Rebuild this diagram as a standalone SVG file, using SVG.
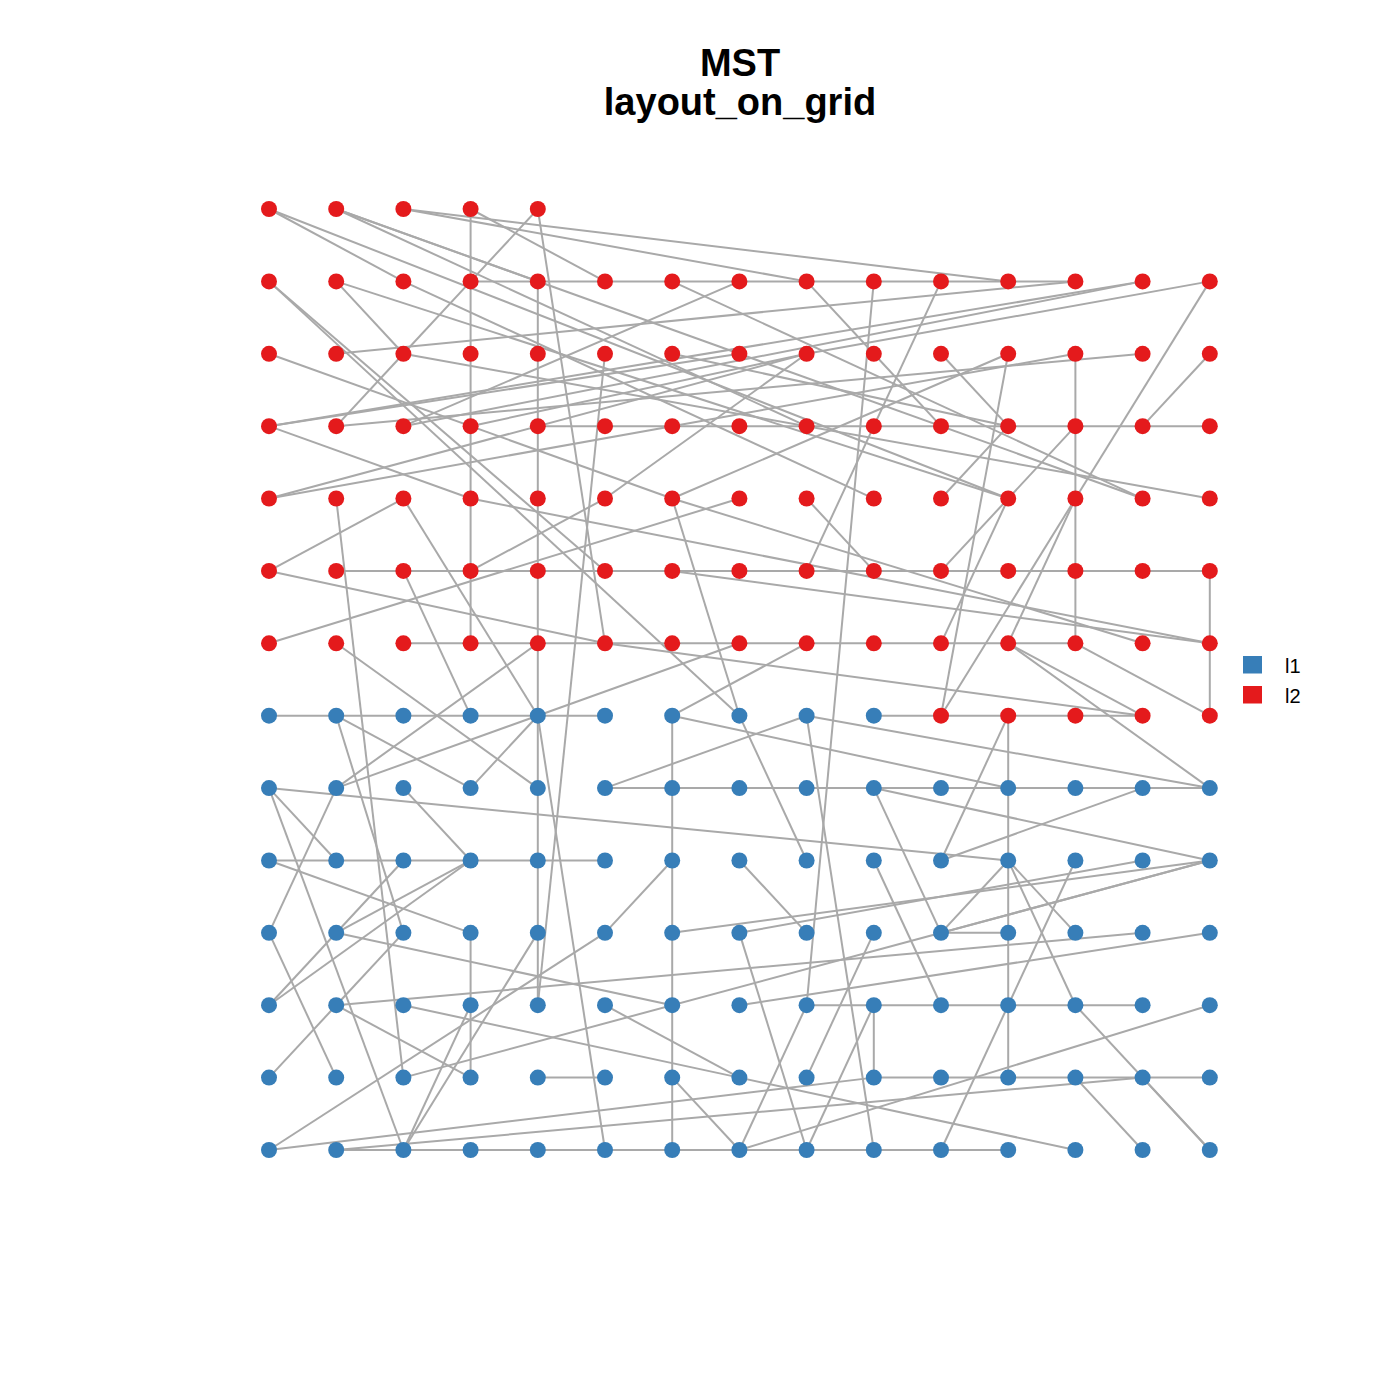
<svg xmlns="http://www.w3.org/2000/svg" width="1400" height="1400" viewBox="0 0 1400 1400">
<style>
.e line{stroke:#A9A9A9;stroke-width:2;vector-effect:non-scaling-stroke;fill:none}
.b{fill:#377EB8}
.r{fill:#E41A1C}
.t{font-family:"Liberation Sans",Arial,sans-serif;font-weight:bold;font-size:38px;text-anchor:middle;fill:#000}
.lg{font-family:"Liberation Sans",Arial,sans-serif;font-size:20px;fill:#000}
</style>
<rect width="1400" height="1400" fill="#fff"/>
<text class="t" x="740" y="76">MST</text>
<text class="t" x="740" y="115">layout_on_grid</text>
<g id="edges" class="e" transform="matrix(67.2,0,0,72.385,269,209)">
<line x1="3" y1="1" x2="4" y2="1"/><line x1="4" y1="1" x2="5" y2="1"/><line x1="5" y1="1" x2="6" y2="1"/><line x1="6" y1="1" x2="7" y2="1"/><line x1="7" y1="1" x2="8" y2="1"/><line x1="8" y1="1" x2="9" y2="1"/><line x1="9" y1="1" x2="10" y2="1"/><line x1="10" y1="1" x2="11" y2="1"/><line x1="11" y1="1" x2="12" y2="1"/>
<line x1="4" y1="3" x2="5" y2="3"/><line x1="5" y1="3" x2="6" y2="3"/><line x1="6" y1="3" x2="7" y2="3"/><line x1="7" y1="3" x2="8" y2="3"/><line x1="8" y1="3" x2="9" y2="3"/><line x1="9" y1="3" x2="10" y2="3"/><line x1="10" y1="3" x2="11" y2="3"/><line x1="11" y1="3" x2="12" y2="3"/><line x1="12" y1="3" x2="13" y2="3"/><line x1="13" y1="3" x2="14" y2="3"/>
<line x1="1" y1="5" x2="2" y2="5"/><line x1="2" y1="5" x2="3" y2="5"/><line x1="3" y1="5" x2="4" y2="5"/><line x1="4" y1="5" x2="5" y2="5"/><line x1="5" y1="5" x2="6" y2="5"/><line x1="6" y1="5" x2="7" y2="5"/><line x1="7" y1="5" x2="8" y2="5"/><line x1="8" y1="5" x2="9" y2="5"/><line x1="9" y1="5" x2="10" y2="5"/><line x1="10" y1="5" x2="11" y2="5"/><line x1="11" y1="5" x2="12" y2="5"/><line x1="12" y1="5" x2="13" y2="5"/><line x1="13" y1="5" x2="14" y2="5"/>
<line x1="2" y1="6" x2="3" y2="6"/><line x1="3" y1="6" x2="4" y2="6"/><line x1="4" y1="6" x2="5" y2="6"/><line x1="5" y1="6" x2="6" y2="6"/><line x1="6" y1="6" x2="7" y2="6"/><line x1="7" y1="6" x2="8" y2="6"/><line x1="8" y1="6" x2="9" y2="6"/><line x1="9" y1="6" x2="10" y2="6"/><line x1="10" y1="6" x2="11" y2="6"/><line x1="11" y1="6" x2="12" y2="6"/>
<line x1="0" y1="7" x2="1" y2="7"/><line x1="1" y1="7" x2="2" y2="7"/><line x1="2" y1="7" x2="3" y2="7"/><line x1="3" y1="7" x2="4" y2="7"/><line x1="4" y1="7" x2="5" y2="7"/><line x1="9" y1="7" x2="10" y2="7"/><line x1="10" y1="7" x2="11" y2="7"/><line x1="11" y1="7" x2="12" y2="7"/><line x1="12" y1="7" x2="13" y2="7"/>
<line x1="5" y1="8" x2="6" y2="8"/><line x1="6" y1="8" x2="7" y2="8"/><line x1="7" y1="8" x2="8" y2="8"/><line x1="8" y1="8" x2="9" y2="8"/><line x1="9" y1="8" x2="10" y2="8"/><line x1="10" y1="8" x2="11" y2="8"/><line x1="11" y1="8" x2="12" y2="8"/><line x1="12" y1="8" x2="13" y2="8"/><line x1="13" y1="8" x2="14" y2="8"/>
<line x1="0" y1="9" x2="1" y2="9"/><line x1="1" y1="9" x2="2" y2="9"/><line x1="2" y1="9" x2="3" y2="9"/><line x1="3" y1="9" x2="4" y2="9"/><line x1="4" y1="9" x2="5" y2="9"/>
<line x1="10" y1="10" x2="11" y2="10"/>
<line x1="8" y1="11" x2="9" y2="11"/><line x1="9" y1="11" x2="10" y2="11"/><line x1="10" y1="11" x2="11" y2="11"/><line x1="11" y1="11" x2="12" y2="11"/><line x1="12" y1="11" x2="13" y2="11"/>
<line x1="4" y1="12" x2="5" y2="12"/><line x1="9" y1="12" x2="10" y2="12"/><line x1="10" y1="12" x2="11" y2="12"/><line x1="11" y1="12" x2="12" y2="12"/><line x1="12" y1="12" x2="13" y2="12"/><line x1="13" y1="12" x2="14" y2="12"/>
<line x1="1" y1="13" x2="2" y2="13"/><line x1="2" y1="13" x2="3" y2="13"/><line x1="3" y1="13" x2="4" y2="13"/><line x1="4" y1="13" x2="5" y2="13"/><line x1="5" y1="13" x2="6" y2="13"/><line x1="6" y1="13" x2="7" y2="13"/><line x1="7" y1="13" x2="8" y2="13"/><line x1="8" y1="13" x2="9" y2="13"/><line x1="9" y1="13" x2="10" y2="13"/><line x1="10" y1="13" x2="11" y2="13"/>
<line x1="3" y1="0" x2="3" y2="1"/><line x1="3" y1="1" x2="3" y2="2"/><line x1="3" y1="2" x2="3" y2="3"/><line x1="3" y1="3" x2="3" y2="4"/><line x1="3" y1="4" x2="3" y2="5"/><line x1="3" y1="5" x2="3" y2="6"/>
<line x1="3" y1="10" x2="3" y2="11"/><line x1="3" y1="11" x2="3" y2="12"/>
<line x1="4" y1="1" x2="4" y2="2"/><line x1="4" y1="2" x2="4" y2="3"/><line x1="4" y1="3" x2="4" y2="4"/><line x1="4" y1="4" x2="4" y2="5"/><line x1="4" y1="5" x2="4" y2="6"/><line x1="4" y1="6" x2="4" y2="7"/><line x1="4" y1="7" x2="4" y2="8"/><line x1="4" y1="8" x2="4" y2="9"/><line x1="4" y1="9" x2="4" y2="10"/><line x1="4" y1="10" x2="4" y2="11"/>
<line x1="6" y1="7" x2="6" y2="8"/><line x1="6" y1="8" x2="6" y2="9"/><line x1="6" y1="9" x2="6" y2="10"/><line x1="6" y1="10" x2="6" y2="11"/><line x1="6" y1="11" x2="6" y2="12"/><line x1="6" y1="12" x2="6" y2="13"/>
<line x1="11" y1="7" x2="11" y2="8"/><line x1="11" y1="8" x2="11" y2="9"/><line x1="11" y1="9" x2="11" y2="10"/><line x1="11" y1="10" x2="11" y2="11"/><line x1="11" y1="11" x2="11" y2="12"/>
<line x1="12" y1="2" x2="12" y2="3"/><line x1="12" y1="3" x2="12" y2="4"/><line x1="12" y1="4" x2="12" y2="5"/><line x1="12" y1="5" x2="12" y2="6"/>
<line x1="14" y1="5" x2="14" y2="6"/><line x1="14" y1="6" x2="14" y2="7"/>
<line x1="9" y1="11" x2="9" y2="12"/>
<line x1="0" y1="0" x2="2" y2="1"/><line x1="0" y1="0" x2="11" y2="4"/><line x1="1" y1="0" x2="4" y2="1"/><line x1="1" y1="0" x2="8" y2="3"/><line x1="1" y1="0" x2="13" y2="4"/><line x1="2" y1="0" x2="8" y2="1"/><line x1="2" y1="0" x2="11" y2="1"/><line x1="3" y1="0" x2="5" y2="1"/><line x1="4" y1="0" x2="3" y2="1"/><line x1="4" y1="0" x2="5" y2="6"/>
<line x1="0" y1="1" x2="5" y2="5"/><line x1="0" y1="1" x2="7" y2="7"/><line x1="1" y1="1" x2="2" y2="2"/><line x1="1" y1="1" x2="11" y2="4"/><line x1="2" y1="1" x2="9" y2="4"/><line x1="3" y1="1" x2="2" y2="2"/><line x1="2" y1="2" x2="1" y2="3"/><line x1="8" y1="1" x2="9" y2="2"/><line x1="9" y1="2" x2="10" y2="3"/><line x1="9" y1="1" x2="8" y2="11"/><line x1="12" y1="1" x2="1" y2="2"/>
<line x1="13" y1="1" x2="0" y2="3"/><line x1="13" y1="1" x2="2" y2="3"/><line x1="14" y1="1" x2="8" y2="2"/><line x1="8" y1="2" x2="3" y2="3"/><line x1="8" y1="2" x2="5" y2="4"/><line x1="0" y1="4" x2="8" y2="2"/><line x1="14" y1="1" x2="12" y2="4"/><line x1="12" y1="4" x2="10" y2="7"/><line x1="11" y1="2" x2="10" y2="7"/><line x1="0" y1="2" x2="6" y2="4"/><line x1="0" y1="4" x2="6" y2="3"/><line x1="2" y1="2" x2="14" y2="4"/>
<line x1="6" y1="1" x2="13" y2="4"/><line x1="7" y1="1" x2="2" y2="3"/><line x1="10" y1="1" x2="8" y2="5"/><line x1="10" y1="2" x2="11" y2="3"/><line x1="11" y1="2" x2="6" y2="4"/><line x1="12" y1="2" x2="6" y2="3"/><line x1="13" y1="2" x2="1" y2="3"/><line x1="14" y1="2" x2="13" y2="3"/><line x1="0" y1="3" x2="3" y2="4"/><line x1="3" y1="5" x2="5" y2="4"/>
<line x1="5" y1="2" x2="4" y2="11"/><line x1="6" y1="2" x2="11" y2="3"/><line x1="0" y1="3" x2="7" y2="2"/><line x1="11" y1="4" x2="12" y2="3"/><line x1="10" y1="4" x2="11" y2="3"/><line x1="8" y1="4" x2="9" y2="5"/><line x1="6" y1="4" x2="13" y2="6"/><line x1="3" y1="4" x2="14" y2="6"/>
<line x1="10" y1="5" x2="11" y2="4"/><line x1="11" y1="4" x2="10" y2="6"/><line x1="12" y1="4" x2="11" y2="6"/><line x1="6" y1="5" x2="14" y2="6"/><line x1="5" y1="6" x2="13" y2="7"/><line x1="8" y1="7" x2="14" y2="8"/>
<line x1="1" y1="4" x2="2" y2="12"/><line x1="0" y1="5" x2="2" y2="4"/><line x1="0" y1="5" x2="5" y2="6"/><line x1="0" y1="6" x2="7" y2="4"/><line x1="1" y1="6" x2="4" y2="8"/><line x1="2" y1="5" x2="3" y2="7"/><line x1="1" y1="7" x2="3" y2="8"/><line x1="0" y1="8" x2="11" y2="9"/><line x1="1" y1="8" x2="4" y2="6"/><line x1="1" y1="8" x2="7" y2="6"/>
<line x1="3" y1="8" x2="4" y2="7"/><line x1="6" y1="7" x2="11" y2="8"/><line x1="8" y1="7" x2="9" y2="13"/><line x1="8" y1="7" x2="5" y2="8"/><line x1="9" y1="8" x2="10" y2="10"/><line x1="11" y1="6" x2="13" y2="7"/><line x1="11" y1="6" x2="14" y2="8"/><line x1="12" y1="6" x2="14" y2="7"/><line x1="2" y1="4" x2="4" y2="7"/><line x1="6" y1="4" x2="7" y2="7"/><line x1="6" y1="7" x2="8" y2="6"/>
<line x1="0" y1="8" x2="1" y2="9"/><line x1="0" y1="10" x2="1" y2="8"/><line x1="0" y1="10" x2="1" y2="12"/><line x1="1" y1="10" x2="3" y2="9"/><line x1="1" y1="10" x2="6" y2="11"/><line x1="0" y1="11" x2="2" y2="9"/><line x1="0" y1="11" x2="3" y2="9"/><line x1="2" y1="10" x2="1" y2="7"/><line x1="0" y1="8" x2="2" y2="13"/><line x1="2" y1="10" x2="1" y2="11"/><line x1="2" y1="8" x2="3" y2="9"/>
<line x1="1" y1="11" x2="13" y2="10"/><line x1="1" y1="11" x2="3" y2="12"/><line x1="1" y1="11" x2="0" y2="12"/><line x1="2" y1="11" x2="7" y2="12"/><line x1="7" y1="12" x2="12" y2="13"/><line x1="0" y1="13" x2="5" y2="10"/><line x1="0" y1="13" x2="9" y2="12"/><line x1="1" y1="13" x2="13" y2="12"/><line x1="2" y1="13" x2="3" y2="11"/><line x1="2" y1="13" x2="4" y2="10"/><line x1="0" y1="9" x2="3" y2="10"/>
<line x1="6" y1="9" x2="5" y2="10"/><line x1="7" y1="9" x2="8" y2="10"/><line x1="5" y1="11" x2="7" y2="12"/><line x1="4" y1="7" x2="5" y2="13"/><line x1="7" y1="13" x2="6" y2="12"/><line x1="7" y1="13" x2="8" y2="11"/><line x1="8" y1="13" x2="9" y2="11"/><line x1="11" y1="9" x2="12" y2="11"/><line x1="11" y1="9" x2="10" y2="10"/><line x1="12" y1="9" x2="11" y2="11"/><line x1="7" y1="10" x2="8" y2="13"/>
<line x1="13" y1="9" x2="7" y2="10"/><line x1="14" y1="11" x2="7" y2="13"/><line x1="13" y1="12" x2="14" y2="13"/><line x1="12" y1="12" x2="13" y2="13"/><line x1="12" y1="11" x2="14" y2="13"/><line x1="10" y1="13" x2="11" y2="11"/><line x1="14" y1="9" x2="2" y2="12"/><line x1="14" y1="9" x2="6" y2="10"/><line x1="14" y1="9" x2="10" y2="10"/><line x1="9" y1="8" x2="14" y2="9"/><line x1="10" y1="9" x2="11" y2="7"/><line x1="10" y1="9" x2="13" y2="8"/>
<line x1="7" y1="7" x2="8" y2="9"/><line x1="9" y1="9" x2="10" y2="11"/><line x1="9" y1="10" x2="8" y2="12"/><line x1="12" y1="10" x2="11" y2="9"/><line x1="7" y1="11" x2="14" y2="10"/>
</g>
<g id="nodes">
<g id="v1"><circle class="b" cx="269" cy="1150" r="8"/></g><g id="v2"><circle class="b" cx="336.2" cy="1150" r="8"/></g><g id="v3"><circle class="b" cx="403.4" cy="1150" r="8"/></g><g id="v4"><circle class="b" cx="470.6" cy="1150" r="8"/></g><g id="v5"><circle class="b" cx="537.8" cy="1150" r="8"/></g><g id="v6"><circle class="b" cx="605" cy="1150" r="8"/></g><g id="v7"><circle class="b" cx="672.2" cy="1150" r="8"/></g><g id="v8"><circle class="b" cx="739.4" cy="1150" r="8"/></g><g id="v9"><circle class="b" cx="806.6" cy="1150" r="8"/></g><g id="v10"><circle class="b" cx="873.8" cy="1150" r="8"/></g><g id="v11"><circle class="b" cx="941" cy="1150" r="8"/></g><g id="v12"><circle class="b" cx="1008.2" cy="1150" r="8"/></g><g id="v13"><circle class="b" cx="1075.4" cy="1150" r="8"/></g><g id="v14"><circle class="b" cx="1142.6" cy="1150" r="8"/></g><g id="v15"><circle class="b" cx="1209.8" cy="1150" r="8"/></g>
<g id="v16"><circle class="b" cx="269" cy="1077.6" r="8"/></g><g id="v17"><circle class="b" cx="336.2" cy="1077.6" r="8"/></g><g id="v18"><circle class="b" cx="403.4" cy="1077.6" r="8"/></g><g id="v19"><circle class="b" cx="470.6" cy="1077.6" r="8"/></g><g id="v20"><circle class="b" cx="537.8" cy="1077.6" r="8"/></g><g id="v21"><circle class="b" cx="605" cy="1077.6" r="8"/></g><g id="v22"><circle class="b" cx="672.2" cy="1077.6" r="8"/></g><g id="v23"><circle class="b" cx="739.4" cy="1077.6" r="8"/></g><g id="v24"><circle class="b" cx="806.6" cy="1077.6" r="8"/></g><g id="v25"><circle class="b" cx="873.8" cy="1077.6" r="8"/></g><g id="v26"><circle class="b" cx="941" cy="1077.6" r="8"/></g><g id="v27"><circle class="b" cx="1008.2" cy="1077.6" r="8"/></g><g id="v28"><circle class="b" cx="1075.4" cy="1077.6" r="8"/></g><g id="v29"><circle class="b" cx="1142.6" cy="1077.6" r="8"/></g><g id="v30"><circle class="b" cx="1209.8" cy="1077.6" r="8"/></g>
<g id="v31"><circle class="b" cx="269" cy="1005.2" r="8"/></g><g id="v32"><circle class="b" cx="336.2" cy="1005.2" r="8"/></g><g id="v33"><circle class="b" cx="403.4" cy="1005.2" r="8"/></g><g id="v34"><circle class="b" cx="470.6" cy="1005.2" r="8"/></g><g id="v35"><circle class="b" cx="537.8" cy="1005.2" r="8"/></g><g id="v36"><circle class="b" cx="605" cy="1005.2" r="8"/></g><g id="v37"><circle class="b" cx="672.2" cy="1005.2" r="8"/></g><g id="v38"><circle class="b" cx="739.4" cy="1005.2" r="8"/></g><g id="v39"><circle class="b" cx="806.6" cy="1005.2" r="8"/></g><g id="v40"><circle class="b" cx="873.8" cy="1005.2" r="8"/></g><g id="v41"><circle class="b" cx="941" cy="1005.2" r="8"/></g><g id="v42"><circle class="b" cx="1008.2" cy="1005.2" r="8"/></g><g id="v43"><circle class="b" cx="1075.4" cy="1005.2" r="8"/></g><g id="v44"><circle class="b" cx="1142.6" cy="1005.2" r="8"/></g><g id="v45"><circle class="b" cx="1209.8" cy="1005.2" r="8"/></g>
<g id="v46"><circle class="b" cx="269" cy="932.8" r="8"/></g><g id="v47"><circle class="b" cx="336.2" cy="932.8" r="8"/></g><g id="v48"><circle class="b" cx="403.4" cy="932.8" r="8"/></g><g id="v49"><circle class="b" cx="470.6" cy="932.8" r="8"/></g><g id="v50"><circle class="b" cx="537.8" cy="932.8" r="8"/></g><g id="v51"><circle class="b" cx="605" cy="932.8" r="8"/></g><g id="v52"><circle class="b" cx="672.2" cy="932.8" r="8"/></g><g id="v53"><circle class="b" cx="739.4" cy="932.8" r="8"/></g><g id="v54"><circle class="b" cx="806.6" cy="932.8" r="8"/></g><g id="v55"><circle class="b" cx="873.8" cy="932.8" r="8"/></g><g id="v56"><circle class="b" cx="941" cy="932.8" r="8"/></g><g id="v57"><circle class="b" cx="1008.2" cy="932.8" r="8"/></g><g id="v58"><circle class="b" cx="1075.4" cy="932.8" r="8"/></g><g id="v59"><circle class="b" cx="1142.6" cy="932.8" r="8"/></g><g id="v60"><circle class="b" cx="1209.8" cy="932.8" r="8"/></g>
<g id="v61"><circle class="b" cx="269" cy="860.5" r="8"/></g><g id="v62"><circle class="b" cx="336.2" cy="860.5" r="8"/></g><g id="v63"><circle class="b" cx="403.4" cy="860.5" r="8"/></g><g id="v64"><circle class="b" cx="470.6" cy="860.5" r="8"/></g><g id="v65"><circle class="b" cx="537.8" cy="860.5" r="8"/></g><g id="v66"><circle class="b" cx="605" cy="860.5" r="8"/></g><g id="v67"><circle class="b" cx="672.2" cy="860.5" r="8"/></g><g id="v68"><circle class="b" cx="739.4" cy="860.5" r="8"/></g><g id="v69"><circle class="b" cx="806.6" cy="860.5" r="8"/></g><g id="v70"><circle class="b" cx="873.8" cy="860.5" r="8"/></g><g id="v71"><circle class="b" cx="941" cy="860.5" r="8"/></g><g id="v72"><circle class="b" cx="1008.2" cy="860.5" r="8"/></g><g id="v73"><circle class="b" cx="1075.4" cy="860.5" r="8"/></g><g id="v74"><circle class="b" cx="1142.6" cy="860.5" r="8"/></g><g id="v75"><circle class="b" cx="1209.8" cy="860.5" r="8"/></g>
<g id="v76"><circle class="b" cx="269" cy="788.1" r="8"/></g><g id="v77"><circle class="b" cx="336.2" cy="788.1" r="8"/></g><g id="v78"><circle class="b" cx="403.4" cy="788.1" r="8"/></g><g id="v79"><circle class="b" cx="470.6" cy="788.1" r="8"/></g><g id="v80"><circle class="b" cx="537.8" cy="788.1" r="8"/></g><g id="v81"><circle class="b" cx="605" cy="788.1" r="8"/></g><g id="v82"><circle class="b" cx="672.2" cy="788.1" r="8"/></g><g id="v83"><circle class="b" cx="739.4" cy="788.1" r="8"/></g><g id="v84"><circle class="b" cx="806.6" cy="788.1" r="8"/></g><g id="v85"><circle class="b" cx="873.8" cy="788.1" r="8"/></g><g id="v86"><circle class="b" cx="941" cy="788.1" r="8"/></g><g id="v87"><circle class="b" cx="1008.2" cy="788.1" r="8"/></g><g id="v88"><circle class="b" cx="1075.4" cy="788.1" r="8"/></g><g id="v89"><circle class="b" cx="1142.6" cy="788.1" r="8"/></g><g id="v90"><circle class="b" cx="1209.8" cy="788.1" r="8"/></g>
<g id="v91"><circle class="b" cx="269" cy="715.7" r="8"/></g><g id="v92"><circle class="b" cx="336.2" cy="715.7" r="8"/></g><g id="v93"><circle class="b" cx="403.4" cy="715.7" r="8"/></g><g id="v94"><circle class="b" cx="470.6" cy="715.7" r="8"/></g><g id="v95"><circle class="b" cx="537.8" cy="715.7" r="8"/></g><g id="v96"><circle class="b" cx="605" cy="715.7" r="8"/></g><g id="v97"><circle class="b" cx="672.2" cy="715.7" r="8"/></g><g id="v98"><circle class="b" cx="739.4" cy="715.7" r="8"/></g><g id="v99"><circle class="b" cx="806.6" cy="715.7" r="8"/></g><g id="v100"><circle class="b" cx="873.8" cy="715.7" r="8"/></g><g id="v101"><circle class="r" cx="941" cy="715.7" r="8"/></g><g id="v102"><circle class="r" cx="1008.2" cy="715.7" r="8"/></g><g id="v103"><circle class="r" cx="1075.4" cy="715.7" r="8"/></g><g id="v104"><circle class="r" cx="1142.6" cy="715.7" r="8"/></g><g id="v105"><circle class="r" cx="1209.8" cy="715.7" r="8"/></g>
<g id="v106"><circle class="r" cx="269" cy="643.3" r="8"/></g><g id="v107"><circle class="r" cx="336.2" cy="643.3" r="8"/></g><g id="v108"><circle class="r" cx="403.4" cy="643.3" r="8"/></g><g id="v109"><circle class="r" cx="470.6" cy="643.3" r="8"/></g><g id="v110"><circle class="r" cx="537.8" cy="643.3" r="8"/></g><g id="v111"><circle class="r" cx="605" cy="643.3" r="8"/></g><g id="v112"><circle class="r" cx="672.2" cy="643.3" r="8"/></g><g id="v113"><circle class="r" cx="739.4" cy="643.3" r="8"/></g><g id="v114"><circle class="r" cx="806.6" cy="643.3" r="8"/></g><g id="v115"><circle class="r" cx="873.8" cy="643.3" r="8"/></g><g id="v116"><circle class="r" cx="941" cy="643.3" r="8"/></g><g id="v117"><circle class="r" cx="1008.2" cy="643.3" r="8"/></g><g id="v118"><circle class="r" cx="1075.4" cy="643.3" r="8"/></g><g id="v119"><circle class="r" cx="1142.6" cy="643.3" r="8"/></g><g id="v120"><circle class="r" cx="1209.8" cy="643.3" r="8"/></g>
<g id="v121"><circle class="r" cx="269" cy="570.9" r="8"/></g><g id="v122"><circle class="r" cx="336.2" cy="570.9" r="8"/></g><g id="v123"><circle class="r" cx="403.4" cy="570.9" r="8"/></g><g id="v124"><circle class="r" cx="470.6" cy="570.9" r="8"/></g><g id="v125"><circle class="r" cx="537.8" cy="570.9" r="8"/></g><g id="v126"><circle class="r" cx="605" cy="570.9" r="8"/></g><g id="v127"><circle class="r" cx="672.2" cy="570.9" r="8"/></g><g id="v128"><circle class="r" cx="739.4" cy="570.9" r="8"/></g><g id="v129"><circle class="r" cx="806.6" cy="570.9" r="8"/></g><g id="v130"><circle class="r" cx="873.8" cy="570.9" r="8"/></g><g id="v131"><circle class="r" cx="941" cy="570.9" r="8"/></g><g id="v132"><circle class="r" cx="1008.2" cy="570.9" r="8"/></g><g id="v133"><circle class="r" cx="1075.4" cy="570.9" r="8"/></g><g id="v134"><circle class="r" cx="1142.6" cy="570.9" r="8"/></g><g id="v135"><circle class="r" cx="1209.8" cy="570.9" r="8"/></g>
<g id="v136"><circle class="r" cx="269" cy="498.5" r="8"/></g><g id="v137"><circle class="r" cx="336.2" cy="498.5" r="8"/></g><g id="v138"><circle class="r" cx="403.4" cy="498.5" r="8"/></g><g id="v139"><circle class="r" cx="470.6" cy="498.5" r="8"/></g><g id="v140"><circle class="r" cx="537.8" cy="498.5" r="8"/></g><g id="v141"><circle class="r" cx="605" cy="498.5" r="8"/></g><g id="v142"><circle class="r" cx="672.2" cy="498.5" r="8"/></g><g id="v143"><circle class="r" cx="739.4" cy="498.5" r="8"/></g><g id="v144"><circle class="r" cx="806.6" cy="498.5" r="8"/></g><g id="v145"><circle class="r" cx="873.8" cy="498.5" r="8"/></g><g id="v146"><circle class="r" cx="941" cy="498.5" r="8"/></g><g id="v147"><circle class="r" cx="1008.2" cy="498.5" r="8"/></g><g id="v148"><circle class="r" cx="1075.4" cy="498.5" r="8"/></g><g id="v149"><circle class="r" cx="1142.6" cy="498.5" r="8"/></g><g id="v150"><circle class="r" cx="1209.8" cy="498.5" r="8"/></g>
<g id="v151"><circle class="r" cx="269" cy="426.2" r="8"/></g><g id="v152"><circle class="r" cx="336.2" cy="426.2" r="8"/></g><g id="v153"><circle class="r" cx="403.4" cy="426.2" r="8"/></g><g id="v154"><circle class="r" cx="470.6" cy="426.2" r="8"/></g><g id="v155"><circle class="r" cx="537.8" cy="426.2" r="8"/></g><g id="v156"><circle class="r" cx="605" cy="426.2" r="8"/></g><g id="v157"><circle class="r" cx="672.2" cy="426.2" r="8"/></g><g id="v158"><circle class="r" cx="739.4" cy="426.2" r="8"/></g><g id="v159"><circle class="r" cx="806.6" cy="426.2" r="8"/></g><g id="v160"><circle class="r" cx="873.8" cy="426.2" r="8"/></g><g id="v161"><circle class="r" cx="941" cy="426.2" r="8"/></g><g id="v162"><circle class="r" cx="1008.2" cy="426.2" r="8"/></g><g id="v163"><circle class="r" cx="1075.4" cy="426.2" r="8"/></g><g id="v164"><circle class="r" cx="1142.6" cy="426.2" r="8"/></g><g id="v165"><circle class="r" cx="1209.8" cy="426.2" r="8"/></g>
<g id="v166"><circle class="r" cx="269" cy="353.8" r="8"/></g><g id="v167"><circle class="r" cx="336.2" cy="353.8" r="8"/></g><g id="v168"><circle class="r" cx="403.4" cy="353.8" r="8"/></g><g id="v169"><circle class="r" cx="470.6" cy="353.8" r="8"/></g><g id="v170"><circle class="r" cx="537.8" cy="353.8" r="8"/></g><g id="v171"><circle class="r" cx="605" cy="353.8" r="8"/></g><g id="v172"><circle class="r" cx="672.2" cy="353.8" r="8"/></g><g id="v173"><circle class="r" cx="739.4" cy="353.8" r="8"/></g><g id="v174"><circle class="r" cx="806.6" cy="353.8" r="8"/></g><g id="v175"><circle class="r" cx="873.8" cy="353.8" r="8"/></g><g id="v176"><circle class="r" cx="941" cy="353.8" r="8"/></g><g id="v177"><circle class="r" cx="1008.2" cy="353.8" r="8"/></g><g id="v178"><circle class="r" cx="1075.4" cy="353.8" r="8"/></g><g id="v179"><circle class="r" cx="1142.6" cy="353.8" r="8"/></g><g id="v180"><circle class="r" cx="1209.8" cy="353.8" r="8"/></g>
<g id="v181"><circle class="r" cx="269" cy="281.4" r="8"/></g><g id="v182"><circle class="r" cx="336.2" cy="281.4" r="8"/></g><g id="v183"><circle class="r" cx="403.4" cy="281.4" r="8"/></g><g id="v184"><circle class="r" cx="470.6" cy="281.4" r="8"/></g><g id="v185"><circle class="r" cx="537.8" cy="281.4" r="8"/></g><g id="v186"><circle class="r" cx="605" cy="281.4" r="8"/></g><g id="v187"><circle class="r" cx="672.2" cy="281.4" r="8"/></g><g id="v188"><circle class="r" cx="739.4" cy="281.4" r="8"/></g><g id="v189"><circle class="r" cx="806.6" cy="281.4" r="8"/></g><g id="v190"><circle class="r" cx="873.8" cy="281.4" r="8"/></g><g id="v191"><circle class="r" cx="941" cy="281.4" r="8"/></g><g id="v192"><circle class="r" cx="1008.2" cy="281.4" r="8"/></g><g id="v193"><circle class="r" cx="1075.4" cy="281.4" r="8"/></g><g id="v194"><circle class="r" cx="1142.6" cy="281.4" r="8"/></g><g id="v195"><circle class="r" cx="1209.8" cy="281.4" r="8"/></g>
<g id="v196"><circle class="r" cx="269" cy="209" r="8"/></g><g id="v197"><circle class="r" cx="336.2" cy="209" r="8"/></g><g id="v198"><circle class="r" cx="403.4" cy="209" r="8"/></g><g id="v199"><circle class="r" cx="470.6" cy="209" r="8"/></g><g id="v200"><circle class="r" cx="537.8" cy="209" r="8"/></g>
</g>
<g id="legend">
<rect class="b" x="1243" y="656" width="19" height="17.5"/>
<rect class="r" x="1243" y="686" width="19" height="17.5"/>
<text class="lg" x="1285" y="673">l1</text>
<text class="lg" x="1285" y="703">l2</text>
</g>
</svg>
